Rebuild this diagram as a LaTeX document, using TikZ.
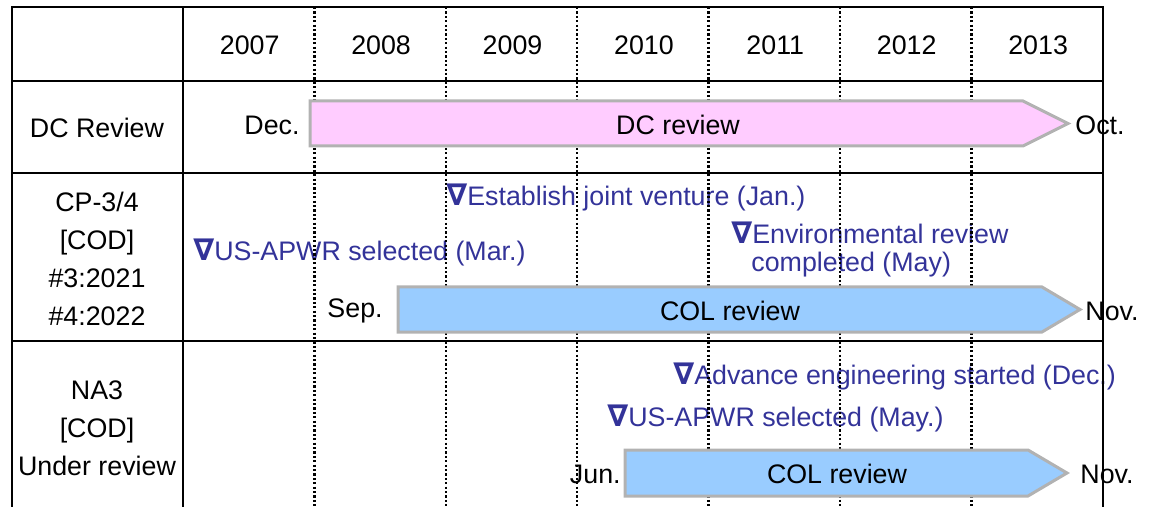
\documentclass[tikz,border=0pt]{standalone}
\usepackage{fontspec}
\setmainfont{Liberation Sans}
\newfontfamily\symfont{DejaVu Sans}
\usepackage{tikz}
\usetikzlibrary{positioning}

\definecolor{barpink}{HTML}{FFCCFF}
\definecolor{barblue}{HTML}{99CCFF}
\definecolor{bargray}{HTML}{B2B2B2}
\definecolor{notecol}{HTML}{333399}

\newcommand{\tri}{{\symfont\bfseries\fontsize{15}{19}\selectfont ∇}}

\tikzset{
  lbl/.style={inner sep=0pt,font=\fontsize{13.4}{19}\selectfont},
  note/.style={lbl,text=notecol,anchor=west},
  gridline/.style={line width=1.2pt},
  yearline/.style={line width=1.2pt,dash pattern=on 1.1pt off 1.1pt},
  bar/.style={draw=bargray,line width=1.5pt},
}

\begin{document}
\begin{tikzpicture}[x=0.5pt,y=-0.5pt]

\useasboundingbox (0,0) rectangle (1149,507);

\coordinate (tl) at (12,7);
\coordinate (tr) at (1103,7);
\coordinate (bl) at (12,507);
\coordinate (br) at (1103,507);

% row labels
\node[lbl] (hdc) at (97,128) {DC Review};
\node[lbl,align=center] (hcp) at (97,259) {CP-3/4\\{}[COD]\\\#3:2021\\\#4:2022};
\node[lbl,align=center] (hna) at (97,428) {NA3\\{}[COD]\\Under review};

\foreach \yr [count=\i from 0] in {2007,...,2013}
  \node[lbl] (y\yr) at ({249.7+131.4*\i},45) {\yr};

% milestones
\node[note] (jv) at (446,197) {\tri Establish joint venture (Jan.)};
\node[note] (selcp) at (193,252) {\tri US-APWR selected (Mar.)};
\node[note] (env) at (731,233) {\tri Environmental review};
\node[note] (envb) at (751,265) {completed (May)};
\node[note] (adv) at (673,376) {\tri Advance engineering started (Dec.)};
\node[note] (selna) at (607,418) {\tri US-APWR selected (May.)};

\node[lbl,anchor=east] (dcs) at (300,125) {Dec.};
\node[lbl,anchor=west] (dce) at (1075,125) {Oct.};
\node[lbl,anchor=east] (cps) at (383,311) {Sep.};
\node[lbl,anchor=west] (cpe) at (1085,311) {Nov.};
\node[lbl,anchor=east] (nas) at (621,474) {Jun.};
\node[lbl,anchor=west] (nae) at (1080,474) {Nov.};

% table
\draw[gridline] (bl) -- (tl) -- (tr) -- (br);
\draw[gridline] (183,7) -- (183,507);
\foreach \yy in {81,173,341}
  \draw[gridline] (12,\yy) -- (1103,\yy);
\foreach \i in {1,...,6}
  \draw[yearline] ({183+131.4*\i},7) -- ({183+131.4*\i},507);

% review bars
\draw[bar,fill=barpink] (310,101) -- (1023,101) -- (1068,123.5) -- (1023,146) -- (310,146) -- cycle;
\node[lbl] (dcbar) at (678,125) {DC review};

\draw[bar,fill=barblue] (398,287) -- (1042,287) -- (1080,309.5) -- (1042,332) -- (398,332) -- cycle;
\node[lbl] (cpbar) at (730,311) {COL review};

\draw[bar,fill=barblue] (625,450) -- (1028,450) -- (1067,473) -- (1028,496) -- (625,496) -- cycle;
\node[lbl] (nabar) at (837,474) {COL review};

\end{tikzpicture}
\end{document}
